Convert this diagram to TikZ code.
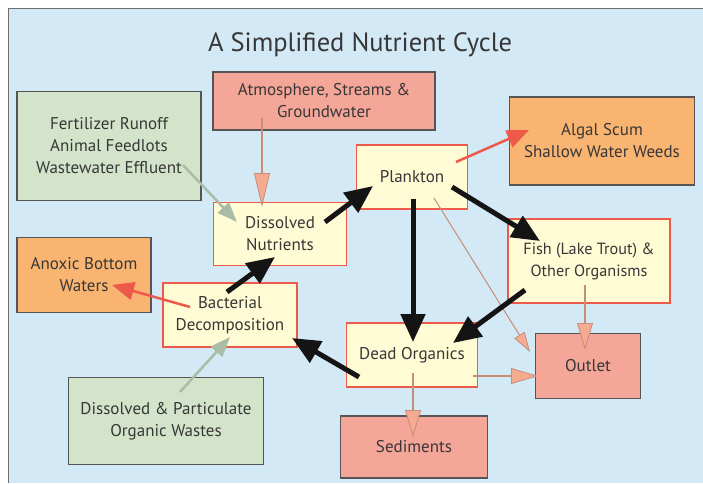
\documentclass[tikz,border=0pt]{standalone}
\usepackage{fontspec}
\setmainfont{PT Sans}
\usepackage{xcolor}
\usepackage{tikz}
\definecolor{cyclebg}{RGB}{211,233,245}
\definecolor{cycleframe}{RGB}{110,110,110}
\definecolor{cyclegray}{RGB}{85,85,85}
\definecolor{cyclegreen}{RGB}{212,228,202}
\definecolor{cyclesalmon}{RGB}{244,166,152}
\definecolor{cycleorange}{RGB}{248,180,112}
\definecolor{cycleyellow}{RGB}{255,251,213}
\definecolor{cyclered}{RGB}{238,90,74}
\definecolor{cycleblack}{RGB}{20,20,20}
\definecolor{cyclebrown}{RGB}{196,142,120}
\definecolor{cyclehead}{RGB}{245,170,145}
\definecolor{cyclesage}{RGB}{168,188,166}
\usetikzlibrary{arrows.meta}

\tikzset{
  basebox/.style={draw, line width=1.2pt, align=center, inner sep=0pt,
    font=\fontsize{17}{22}\selectfont, text=cycleblack!85},
  sourcebox/.style={basebox, draw=cyclegray, fill=cyclegreen},
  sinkbox/.style={basebox, draw=cyclegray, fill=cyclesalmon},
  effectbox/.style={basebox, draw=cyclegray, fill=cycleorange},
  poolbox/.style={basebox, draw=cyclered, fill=cycleyellow},
  mainflow/.style={-{Triangle[length=28pt,width=24pt]}, line width=5pt, cycleblack},
  lossflow/.style={-{Triangle[length=#1,width=16pt,fill=cyclehead,line width=0.8pt]}, line width=2pt, cyclebrown},
  lossflow/.default=27pt,
  inflow/.style={-{Triangle[length=20pt,width=15pt]}, line width=2.5pt, cyclesage},
  sideflow/.style={-{Triangle[length=22pt,width=18pt]}, line width=2.5pt, cyclered}
}

\begin{document}
\begin{tikzpicture}[x=1pt, y=-1pt]
    \useasboundingbox (0,0) rectangle (703,483);
    \fill[cyclebg] (8,8) rectangle (703,483);
    \draw[cycleframe, line width=1pt] (8,483) -- (8,8) -- (703,8);

    \node[font=\fontsize{26.5}{30}\selectfont, text=cycleblack!85] (title) at (360,45) {A Simplified Nutrient Cycle};

    % outside sources and sinks
    \node[sinkbox, minimum width=222, minimum height=58] (atmo) at (324,101) {Atmosphere, Streams \&\\Groundwater};
    \node[sourcebox, minimum width=184, minimum height=109] (fert) at (109,146) {Fertilizer Runoff\\Animal Feedlots\\Wastewater Effluent};
    \node[effectbox, minimum width=185, minimum height=88] (algal) at (602,141) {Algal Scum\\Shallow Water Weeds};
    \node[effectbox, minimum width=134, minimum height=75] (anoxic) at (84,275) {Anoxic Bottom\\Waters};
    \node[sourcebox, minimum width=195, minimum height=87] (wastes) at (166,421) {Dissolved \& Particulate\\Organic Wastes};
    \node[sinkbox, minimum width=105, minimum height=65] (outlet) at (588,366) {Outlet};
    \node[sinkbox, minimum width=147, minimum height=62] (sed) at (414,447) {Sediments};

    % pools in the lake
    \node[poolbox, minimum width=111, minimum height=64] (plank) at (412,177) {Plankton};
    \node[poolbox, minimum width=133, minimum height=63] (dissnut) at (280,234) {Dissolved\\Nutrients};
    \node[poolbox, minimum width=162, minimum height=84, font=\fontsize{16.2}{22}\selectfont] (fish) at (589,261) {Fish (Lake Trout) \&\\Other Organisms};
    \node[poolbox, minimum width=134, minimum height=64] (bact) at (230,315) {Bacterial\\Decomposition};
    \node[poolbox, minimum width=131, minimum height=64] (dead) at (412,355) {Dead Organics};

    % flows
    \draw[lossflow=34pt] ([shift={(-62,17)}]atmo.center) -- ([shift={(-18,-27)}]dissnut.center);
    \draw[inflow] ([shift={(74,19)}]fert.center) -- ([shift={(-43,-12)}]dissnut.center);
    \draw[inflow] ([shift={(14,-29)}]wastes.center) -- ([shift={(0,22)}]bact.center);
    \draw[mainflow] ([shift={(45,-12)}]dissnut.center) -- ([shift={(-39,9)}]plank.center);
    \draw[mainflow] ([shift={(-3,-23)}]bact.center) -- ([shift={(-5,23)}]dissnut.center);
    \draw[sideflow] ([shift={(-40,-8)}]bact.center) -- ([shift={(28,10)}]anoxic.center);
    \draw[sideflow] ([shift={(44,-15)}]plank.center) -- ([shift={(-73,-11)}]algal.center);
    \draw[mainflow] ([shift={(40,10)}]plank.center) -- ([shift={(-49,-20)}]fish.center);
    \draw[mainflow] ([shift={(1,22)}]plank.center) -- ([shift={(1,-13)}]dead.center);
    \draw[lossflow, line width=1pt, -{Triangle[length=20pt,width=12pt,fill=cyclehead,line width=0.8pt]}] ([shift={(22,21)}]plank.center) -- ([shift={(-58,-14)}]outlet.center);
    \draw[mainflow] ([shift={(-64,29)}]fish.center) -- ([shift={(41,-12)}]dead.center);
    \draw[lossflow] ([shift={(-4,24)}]fish.center) -- ([shift={(-3,-16)}]outlet.center);
    \draw[mainflow] ([shift={(-53,22)}]dead.center) -- ([shift={(62,23)}]bact.center);
    \draw[lossflow] ([shift={(61,21)}]dead.center) -- ([shift={(-50,10)}]outlet.center);
    \draw[lossflow] ([shift={(1,18)}]dead.center) -- ([shift={(-1,-10)}]sed.center);
\end{tikzpicture}
\end{document}
